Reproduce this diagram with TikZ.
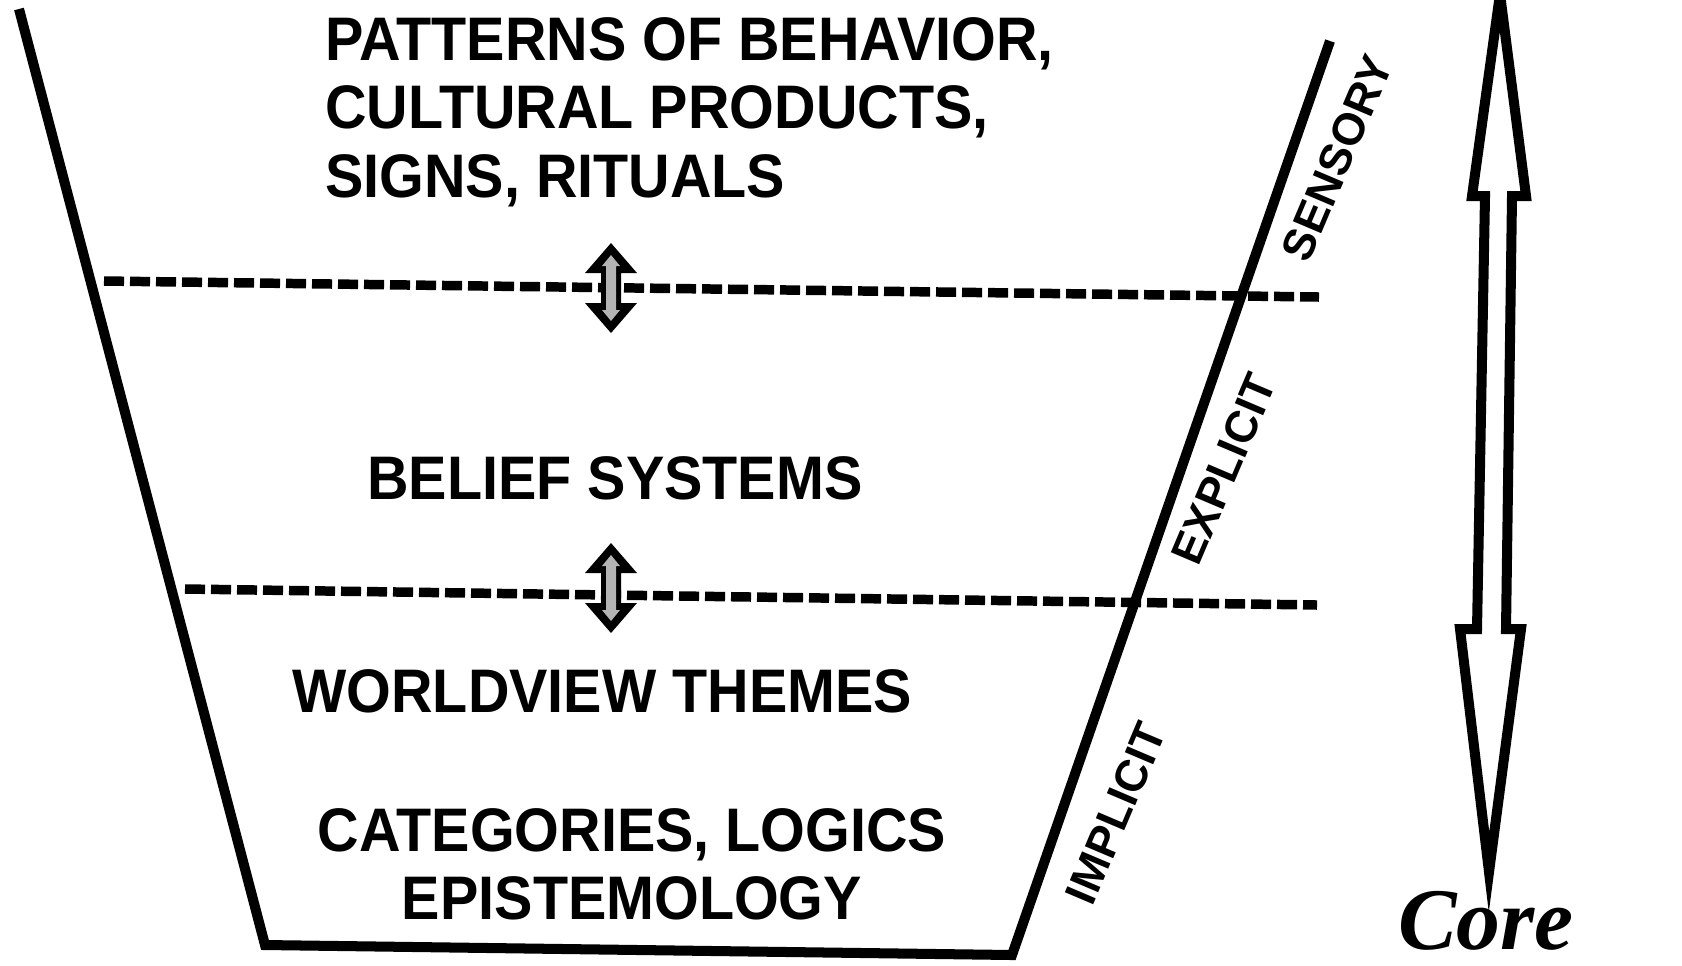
\documentclass[tikz,border=0pt]{standalone}
\usepackage{fontspec}
\newfontfamily\layerfont{Liberation Sans}[FakeStretch=0.935]
\newfontfamily\sidefont{Liberation Sans}
\newfontfamily\corefont{Liberation Serif}
\definecolor{inkblack}{HTML}{000000}
\definecolor{halftone}{HTML}{B4B4B4}
\usetikzlibrary{positioning}
\tikzset{
  rim/.style={draw=inkblack, line width=5.7pt, line join=miter},
  level/.style={draw=inkblack, line width=5.4pt, dash pattern=on 11.4pt off 3.4pt},
  layer/.style={font=\layerfont\bfseries\fontsize{35}{39}\selectfont, inner sep=0pt},
  side/.style={font=\sidefont\bfseries\fontsize{25.5}{28}\selectfont, inner sep=0pt, rotate=67},
}

\begin{document}
\begin{tikzpicture}[x=0.02cm, y=-0.02cm]
    \useasboundingbox (0,0) rectangle (1682,965);
    % --- Funnel ---
    \draw[rim] (19,9) -- (265,945) -- (1012,955) -- (1330,41);
    % --- Levels ---
    \draw[level] (104,281) -- (1319,297);
    \draw[level] (185,589) -- (1317,605);
    % Small double arrows between the layers
    \foreach \cy in {288, 588} {
      \fill[inkblack] (611,\cy) ++(0,-45) -- ++(26,30) -- ++(-16,0) -- ++(0,30)
        -- ++(16,0) -- ++(-26,30) -- ++(-26,-30) -- ++(16,0) -- ++(0,-30)
        -- ++(-16,0) -- cycle;
      \fill[halftone] (611,\cy) ++(0,-33) -- ++(9,11) -- ++(-4,0) -- ++(0,44)
        -- ++(4,0) -- ++(-9,11) -- ++(-9,-11) -- ++(4,0) -- ++(0,-44)
        -- ++(-4,0) -- cycle;
    }
    % --- Layer texts ---
    \node[layer, anchor=north west, align=left] (behavior) at (325,17)
      {PATTERNS OF BEHAVIOR,\\CULTURAL PRODUCTS,\\SIGNS, RITUALS};
    \node[layer, anchor=north west] (belief) at (367,456) {BELIEF SYSTEMS};
    \node[layer, anchor=north west] (worldview) at (292,669) {WORLDVIEW THEMES};
    \node[layer, anchor=north, align=center] (categories) at (632,808)
      {CATEGORIES, LOGICS\\EPISTEMOLOGY};
    % --- Side labels ---
    \node[side] (sensory) at (1337,158) {SENSORY};
    \node[side] (explicit) at (1224,469) {EXPLICIT};
    \node[side] (implicit) at (1116,813) {IMPLICIT};
    % --- Core arrow ---
    \draw[rim, fill=white] (1500,-6) -- (1526,196) -- (1512,196) -- (1506,629)
      -- (1521,629) -- (1489,872) -- (1460,629) -- (1477,629) -- (1485,196)
      -- (1472,196) -- cycle;
    \node[font=\corefont\bfseries\itshape\fontsize{50}{55}\selectfont,
      anchor=base, inner sep=0pt] (core) at (1486,949) {Core};
  \end{tikzpicture}
\end{document}
